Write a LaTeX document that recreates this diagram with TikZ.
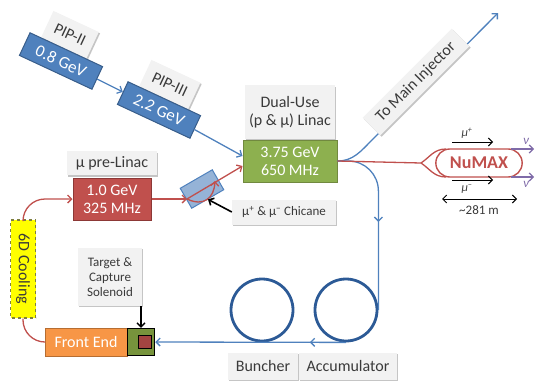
\documentclass[tikz,border=0pt]{standalone}
\usepackage{fontspec}
\setmainfont{Carlito}
\usetikzlibrary{arrows.meta,shadows,decorations.markings,shapes.misc}
\pgfdeclarelayer{bg}
\pgfsetlayers{bg,main}
\definecolor{pblue}{HTML}{4F81BD}
\definecolor{pbluedark}{HTML}{385D8A}
\definecolor{pred}{HTML}{C0504D}
\definecolor{preddark}{HTML}{8C3836}
\definecolor{pgreen}{HTML}{8DB04F}
\definecolor{pgreendark}{HTML}{71893F}
\definecolor{porange}{HTML}{F79646}
\definecolor{porangedark}{HTML}{B66D31}
\definecolor{ppurple}{HTML}{7F6BA8}
\definecolor{ringblue}{HTML}{2C5A96}
\definecolor{lblgray}{HTML}{F2F2F2}
\definecolor{lbltext}{HTML}{3A3A3A}
\definecolor{tgreen}{HTML}{77933C}
\definecolor{coolyellow}{HTML}{FFFF00}
\definecolor{cooldash}{HTML}{7F7F3F}
\tikzset{
  >={Straight Barb[length=4pt,width=8pt]},
  lblbox/.style={fill=lblgray, text=lbltext, align=center, inner sep=2pt,
    font=\fontsize{16}{18}\selectfont,
    drop shadow={shadow xshift=1.3pt,shadow yshift=-1.3pt,opacity=0.5,fill=black!45}},
  colbox/.style={text=white, line width=1pt, align=center, inner sep=2pt,
    font=\fontsize{16}{18}\selectfont},
  bluebox/.style={colbox, fill=pblue, draw=pbluedark, minimum width=80, minimum height=25,
    font=\fontsize{17}{19}\selectfont},
  redbox/.style={colbox, fill=pred, draw=preddark, minimum width=78, minimum height=42},
  greenbox/.style={colbox, fill=pgreen, draw=pgreendark, minimum width=94, minimum height=42},
  orangebox/.style={colbox, fill=porange, draw=porangedark, minimum width=82, minimum height=28},
  bline/.style={draw=pblue, line width=1.3pt},
  rline/.style={draw=pred, line width=1.3pt},
  ringnode/.style={circle, draw=ringblue, line width=2.8pt, minimum size=62, inner sep=0},
  midarrow/.style={postaction={decorate}, decoration={markings, mark=at position #1 with {\arrow{>}}}},
  smalltxt/.style={font=\fontsize{13}{15}\selectfont},
}
\begin{document}
\begin{tikzpicture}[x=1pt,y=-1pt]
\useasboundingbox (0,0) rectangle (535,383);

% ---------- proton injectors ----------
\node[bluebox, rotate=-25] (pip2) at (61,61) {0.8 GeV};
\node[bluebox, rotate=-25] (pip3) at (159,110) {2.2 GeV};
\node[greenbox] (linac) at (290,161) {3.75 GeV\\650 MHz};
\begin{pgfonlayer}{bg}
\node[lblbox, rotate=-25, anchor=south, minimum width=50, minimum height=29] (pip2l)
  at ([shift={(-25:-3pt)}]pip2.north) {PIP-II};
\node[lblbox, rotate=-25, anchor=south, minimum width=54, minimum height=29] (pip3l)
  at ([shift={(-25:-1pt)}]pip3.north) {PIP-III};
\node[lblbox, anchor=south, minimum width=90, minimum height=54] (linacl)
  at (linac.north) {Dual-Use\\(p \& μ) Linac};
\end{pgfonlayer}
\draw[bline,->] (pip2) -- (pip3);
\draw[bline,->] (pip3) -- ([yshift=5pt]linac.west);

% ---------- to main injector ----------
\coordinate (mi) at (498,13);
\coordinate (mibend) at (372,140);
\draw[bline,->] (linac.east) to[out=0,in=225] (mibend) -- (mi);
\node[lblbox, rotate=45, minimum width=126, minimum height=25] (mil) at (416,82) {To Main Injector};

% ---------- muon pre-linac ----------
\node[redbox] (prelinac) at (112,199) {1.0 GeV\\325 MHz};
\node[lblbox, anchor=south, minimum width=90, minimum height=24] (prelinacl)
  at ([yshift=2pt]prelinac.north) {μ pre-Linac};

% ---------- chicane ----------
\node[draw=pblue, fill=pblue!60, line width=1pt, rotate=30, minimum width=37, minimum height=23, inner sep=0] (chicane) at (202,189) {};
\coordinate (cin) at (187,199);
\coordinate (cout) at (215,181);
\draw[rline,->] (prelinac.east) -- (cin);
\draw[rline,->] (cin) -- ([yshift=-5pt]linac.west);
\draw[rline,->] (cin) .. controls (204,207) and (214,198) .. (cout);
\node[lblbox, smalltxt, minimum width=104, minimum height=25] (chl) at (284,212)
  {μ\textsuperscript{+} \& μ\textsuperscript{−} Chicane};
\draw[black, line width=1.6pt, ->] (chl.west) -- (chicane.south);

% ---------- cooling / front end / target ----------
\node[draw=cooldash, dashed, line width=1.4pt, fill=coolyellow, rotate=-90,
  minimum width=98, minimum height=25, inner sep=1pt, text=lbltext,
  font=\fontsize{16}{18}\selectfont] (cool) at (23,269) {6D Cooling};
\node[orangebox] (fe) at (86,342) {Front End};
\node[draw=black, line width=1.5pt, fill=tgreen, minimum size=27, inner sep=0] (target) at (141,342) {};
\node[draw=black, line width=1pt, fill=pred!85!black, minimum size=13, inner sep=0] (tcore) at (145,342) {};
\node[lblbox, smalltxt, minimum width=64, minimum height=58] (tl) at (110,277)
  {Target \&\\Capture\\Solenoid};
\draw[black, line width=1.4pt, ->] (tl.south -| target.north) -- (target.north);
\draw[rline, rounded corners=22pt] (fe.west) -| (cool.east);
\draw[rline, ->, rounded corners=22pt] (cool.west) |- (prelinac.west);

% ---------- rings ----------
\node[ringnode] (bun) at (262,310) {};
\node[ringnode] (acc) at (346,310) {};
\draw[bline, rounded corners=30pt, midarrow=89pt] (linac.east) -| (acc.east);
\draw[bline, ->, midarrow=0.19] (acc.south) -- (target.east);
\node[lblbox, minimum width=70, minimum height=27] (bunl) at (263,366) {Buncher};
\node[lblbox, minimum width=98, minimum height=27] (accl) at (348,366) {Accumulator};

% ---------- NuMAX ----------
\node[rounded rectangle, draw=pred, line width=1.4pt, fill=white, minimum width=93, minimum height=28,
  text=pred, font=\fontsize{18}{20}\selectfont\bfseries] (numax) at (479,163) {NuMAX};
\coordinate (fork) at (421,163);
\coordinate (ftop) at (446,149);
\coordinate (fbot) at (446,177);
\draw[rline] (linac.east) -- (fork);
\draw[rline] (fork) .. controls (430,157) and (434,149) .. (ftop);
\draw[rline] (fork) .. controls (430,169) and (434,177) .. (fbot);
\coordinate (nu1s) at (511,149);
\coordinate (nu1e) at (534,149);
\coordinate (nu2s) at (511,177);
\coordinate (nu2e) at (534,177);
\draw[draw=ppurple, line width=1.2pt, ->] (nu1s) -- (nu1e);
\draw[draw=ppurple, line width=1.2pt, ->] (nu2s) -- (nu2e);
\node[text=ppurple, font=\fontsize{13}{15}\selectfont\itshape] (nu1) at (526,141) {ν};
\node[text=ppurple, font=\fontsize{13}{15}\selectfont\itshape] (nu2) at (526,184) {ν};
\coordinate (mp1) at (452,142);
\coordinate (mp2) at (493,142);
\coordinate (mm1) at (452,180);
\coordinate (mm2) at (493,180);
\draw[black, line width=1pt, ->] (mp1) -- (mp2);
\draw[black, line width=1pt, ->] (mm1) -- (mm2);
\node[font=\fontsize{12}{14}\selectfont\itshape, text=lbltext] (mpl) at (467,133) {μ\textsuperscript{+}};
\node[font=\fontsize{12}{14}\selectfont\itshape, text=lbltext] (mml) at (467,189) {μ\textsuperscript{−}};
\coordinate (d1) at (442,199);
\coordinate (d2) at (517,199);
\draw[black, line width=1pt, <->] (d1) -- (d2);
\node[font=\fontsize{13}{15}\selectfont, text=lbltext] (dl) at (479,210) {\textasciitilde281 m};
\end{tikzpicture}
\end{document}
